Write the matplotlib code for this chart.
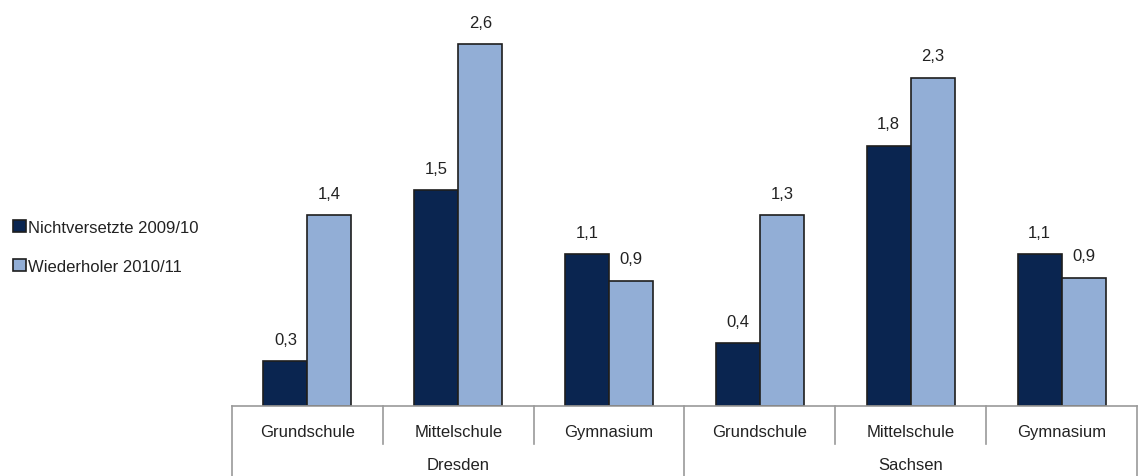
import matplotlib

matplotlib.use("Agg")
import matplotlib.pyplot as plt
from matplotlib.transforms import blended_transform_factory

# values (bar heights) and the printed labels
schools = ["Grundschule", "Mittelschule", "Gymnasium",
           "Grundschule", "Mittelschule", "Gymnasium"]
regions = ["Dresden", "Sachsen"]
nicht = [0.32, 1.55, 1.09, 0.45, 1.87, 1.09]
wieder = [1.37, 2.60, 0.90, 1.37, 2.36, 0.92]
nicht_labels = ["0,3", "1,5", "1,1", "0,4", "1,8", "1,1"]
wieder_labels = ["1,4", "2,6", "0,9", "1,3", "2,3", "0,9"]
series_names = ["Nichtversetzte 2009/10", "Wiederholer 2010/11"]

DARK = "#0a2550"
LIGHT = "#92aed6"
EDGE = "#1e1e1e"
GRID = "#9a9a9a"
TEXT = "#222222"

plt.rcParams["font.family"] = ["Liberation Sans Narrow", "Liberation Sans",
                               "DejaVu Sans"]
plt.rcParams["font.size"] = 12

W, H = 1141, 477
fig = plt.figure(figsize=(W / 100, H / 100), dpi=100)
base_y = 407
ax = fig.add_axes([232 / W, (H - base_y) / H, (1137 - 232) / W, base_y / H])
ax.set_xlim(-0.5, 5.5)
ax.set_ylim(0, base_y / 139.1)
ax.axis("off")

x = list(range(len(schools)))
bw = 0.292
b1 = ax.bar([i - bw / 2 for i in x], nicht, bw, color=DARK, edgecolor=EDGE,
            linewidth=1.2, label=series_names[0], zorder=3)
b2 = ax.bar([i + bw / 2 for i in x], wieder, bw, color=LIGHT, edgecolor=EDGE,
            linewidth=1.2, label=series_names[1], zorder=3)

for i in x:
    ax.annotate(nicht_labels[i], (i - bw / 2, nicht[i]), xytext=(0, 16),
                textcoords="offset points", ha="center", va="center",
                color=TEXT)
    ax.annotate(wieder_labels[i], (i + bw / 2, wieder[i]), xytext=(0, 16),
                textcoords="offset points", ha="center", va="center",
                color=TEXT)

# category axis drawn as a two-level table
tr = blended_transform_factory(ax.transData, fig.transFigure)
y0 = (H - base_y) / H
ax.plot([-0.5, 5.5], [y0, y0], transform=tr, color=GRID, lw=1.2,
        clip_on=False, zorder=4)
for k in range(7):
    xs = k - 0.5
    y_end = 0.0 if k in (0, 3, 6) else (H - 445) / H
    ax.plot([xs, xs], [y0, y_end], transform=tr, color=GRID, lw=1.2,
            clip_on=False)
for i, name in enumerate(schools):
    ax.text(i, (H - 433) / H, name, transform=tr, ha="center", va="center",
            color=TEXT)
for j, name in enumerate(regions):
    ax.text(3 * j + 1, (H - 466) / H, name, transform=tr, ha="center",
            va="center", color=TEXT)

fig.legend(handles=[b1, b2], loc="center left",
           bbox_to_anchor=(5 / W, (H - 248) / H), frameon=False,
           handlelength=0.75, handleheight=0.75, handletextpad=0.1,
           labelspacing=1.45, borderpad=0, fontsize=12, labelcolor=TEXT)

fig.savefig("out.png", dpi=100)
